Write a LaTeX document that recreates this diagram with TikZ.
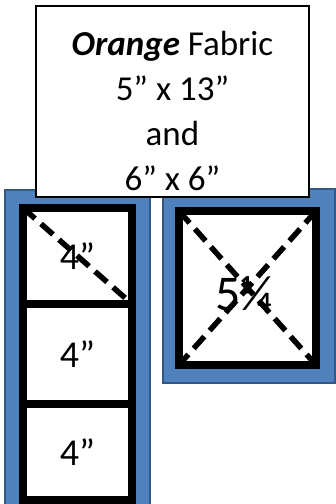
\documentclass[tikz,border=0pt]{standalone}
\usepackage{fontspec}
\setmainfont{Carlito}
\definecolor{patchblue}{RGB}{79,129,189}
\definecolor{patchedge}{RGB}{52,88,134}
\begin{document}
\begin{tikzpicture}[x=1pt,y=-1pt,line join=miter,
  patch/.style={fill=patchblue,draw=patchedge,line width=2.5pt},
  piece/.style={draw=black,fill=white,line width=8pt,outer sep=0pt,inner sep=0pt},
  cutline/.style={black,line width=5.5pt,dash pattern=on 16pt off 8pt},
  sizetext/.style={font=\fontsize{38}{40}\selectfont}]
\useasboundingbox (0,0) rectangle (336,504);
% blue backing
\draw[patch] (5,190) rectangle (150,515);
\draw[patch] (163,189) rectangle (335,383);
% strip of three 4" squares
\node[piece,sizetext,minimum width=109pt,minimum height=96pt] (sqA) at (77.5,256) {4”};
\node[piece,sizetext,minimum width=109pt,minimum height=100pt] (sqB) at (77.5,354) {4”};
\node[piece,sizetext,minimum width=109pt,minimum height=96pt] (sqC) at (77.5,452) {4”};
\draw[cutline] (sqA.north west) -- (sqA.south east);
% the 6" square
\node[piece,minimum width=137pt,minimum height=154pt] (sqBig) at (247.5,288) {};
\node[font=\fontsize{50}{54}\selectfont,inner sep=0pt] (cut) at (244,294) {5¼};
\draw[cutline] (sqBig.north west) -- (sqBig.south east);
\draw[cutline] (sqBig.north east) -- (sqBig.south west);
% label
\node[draw=black,fill=white,line width=1.2pt,minimum width=273pt,minimum height=191pt,outer sep=0pt] (box) at (172.5,101.5) {};
\node[anchor=north,inner sep=0pt,align=center,font=\fontsize{35}{45}\selectfont] (boxtext) at (172.5,31)
  {\textbf{\textit{Orange}} Fabric\\5” x 13”\\and\\6” x 6”};
\end{tikzpicture}
\end{document}
